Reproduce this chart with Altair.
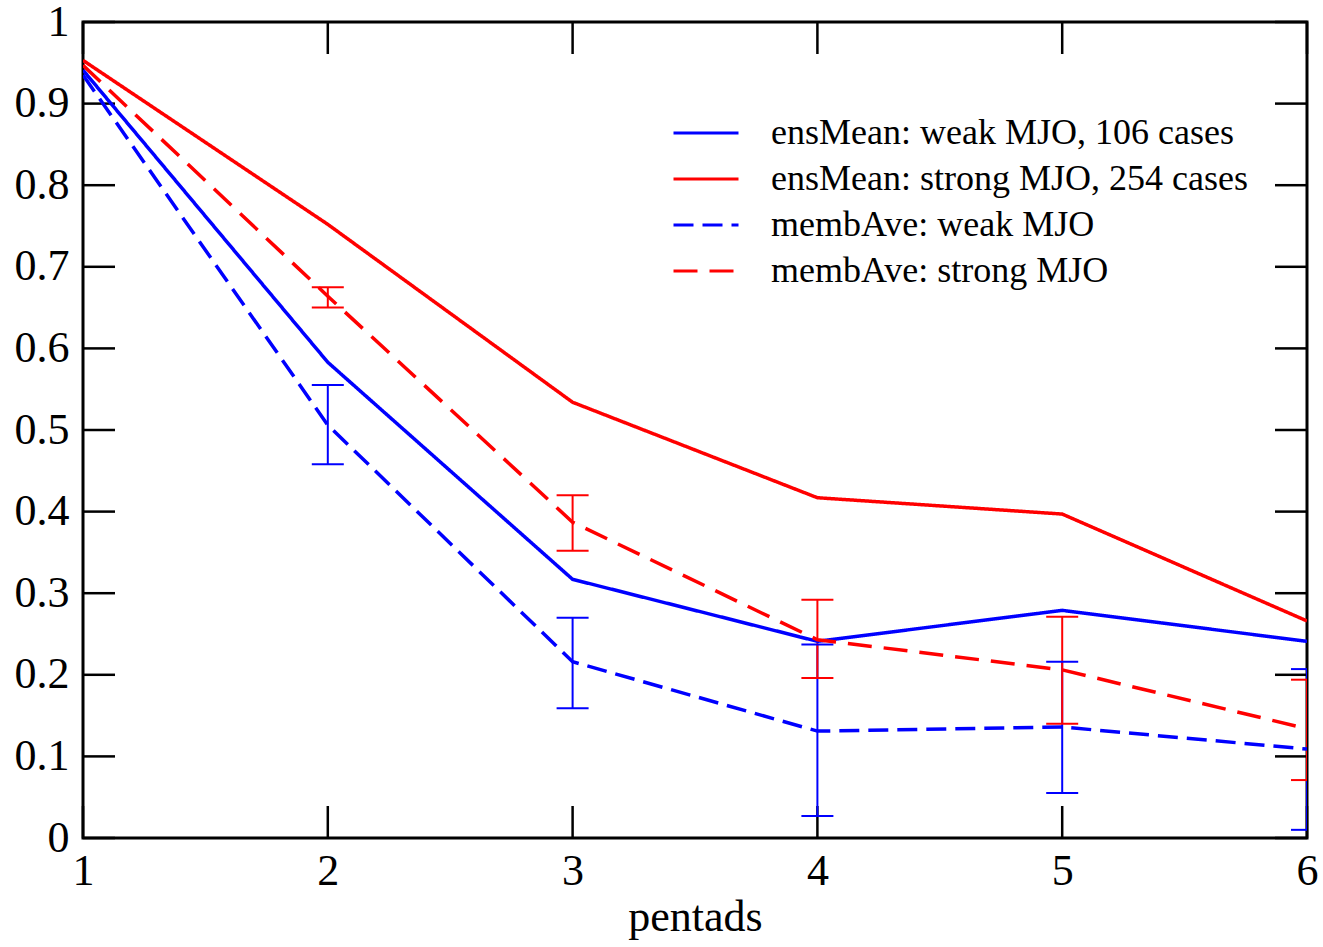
import altair as alt
import pandas as pd

pentads = [1, 2, 3, 4, 5, 6]
ens_weak = [0.941, 0.583, 0.317, 0.241, 0.279, 0.241]
ens_strong = [0.953, 0.752, 0.534, 0.417, 0.397, 0.266]
memb_weak = [0.935, 0.506, 0.216, 0.131, 0.136, 0.109]
memb_strong = [0.947, 0.664, 0.387, 0.243, 0.206, 0.134]

err_x = [2, 3, 4, 5, 6]
weak_lo = [0.458, 0.159, 0.027, 0.055, 0.010]
weak_hi = [0.555, 0.270, 0.237, 0.216, 0.207]
strong_lo = [0.650, 0.352, 0.196, 0.140, 0.071]
strong_hi = [0.675, 0.420, 0.292, 0.271, 0.194]

series_names = [
    "ensMean: weak MJO, 106 cases",
    "ensMean: strong MJO, 254 cases",
    "membAve: weak MJO",
    "membAve: strong MJO",
]
series_colors = ["#0000ff", "#ff0000", "#0000ff", "#ff0000"]
series_dash = [[1, 0], [1, 0], [20, 9], [24, 12]]

x_ticks = [1, 2, 3, 4, 5, 6]
y_ticks = [0, 0.1, 0.2, 0.3, 0.4, 0.5, 0.6, 0.7, 0.8, 0.9, 1.0]

W, H = 1224, 816
TICK = 32
FONT = "Liberation Serif"

rows = []
for name, vals in zip(series_names, [ens_weak, ens_strong, memb_weak, memb_strong]):
    for p, v in zip(pentads, vals):
        rows.append({"pentad": p, "value": v, "series": name})
lines_df = pd.DataFrame(rows)

err_rows = []
for color, lo, hi in [("#0000ff", weak_lo, weak_hi), ("#ff0000", strong_lo, strong_hi)]:
    for p, a, b in zip(err_x, lo, hi):
        err_rows.append({"pentad": p, "lo": a, "hi": b, "c": color})
err_df = pd.DataFrame(err_rows)

xscale = alt.Scale(domain=[1, 6], nice=False, zero=False)
yscale = alt.Scale(domain=[0, 1], nice=False, zero=False)

xaxis = alt.Axis(values=x_ticks, format="d", ticks=False, domain=False, grid=False,
                 labelFont=FONT, labelFontSize=44, labelColor="black", labelPadding=11,
                 labelFlush=False, labelOverlap=False,
                 title="pentads", titleFont=FONT, titleFontSize=44, titleFontWeight="normal",
                 titleColor="black", titlePadding=2)
yaxis = alt.Axis(values=y_ticks, format="~g", ticks=False, domain=False, grid=False,
                 labelFont=FONT, labelFontSize=44, labelColor="black", labelPadding=14,
                 labelFlush=False, labelOverlap=False, title=None)

legend = alt.Legend(title=None, orient="none", legendX=589, legendY=91,
                    symbolType="stroke", symbolSize=4225, symbolStrokeWidth=3,
                    labelFont=FONT, labelFontSize=36, labelColor="black",
                    labelOffset=31, rowPadding=6, clipHeight=40, padding=0, labelLimit=0)

lines = alt.Chart(lines_df).mark_line(strokeWidth=3.5, clip=True).encode(
    x=alt.X("pentad:Q", scale=xscale, axis=xaxis),
    y=alt.Y("value:Q", scale=yscale, axis=yaxis),
    color=alt.Color("series:N", scale=alt.Scale(domain=series_names, range=series_colors), legend=legend),
    strokeDash=alt.StrokeDash("series:N", scale=alt.Scale(domain=series_names, range=series_dash), legend=legend),
    detail="series:N",
)

err_v = alt.Chart(err_df).mark_rule(strokeWidth=2, clip=True).encode(
    x=alt.X("pentad:Q", scale=xscale),
    y=alt.Y("lo:Q", scale=yscale),
    y2="hi:Q",
    stroke=alt.Stroke("c:N", scale=None, legend=None),
)
err_lo = alt.Chart(err_df).mark_rule(strokeWidth=2, clip=True, xOffset=-16, x2Offset=16).encode(
    x=alt.X("pentad:Q", scale=xscale), x2="pentad:Q",
    y=alt.Y("lo:Q", scale=yscale),
    stroke=alt.Stroke("c:N", scale=None, legend=None),
)
err_hi = alt.Chart(err_df).mark_rule(strokeWidth=2, clip=True, xOffset=-16, x2Offset=16).encode(
    x=alt.X("pentad:Q", scale=xscale), x2="pentad:Q",
    y=alt.Y("hi:Q", scale=yscale),
    stroke=alt.Stroke("c:N", scale=None, legend=None),
)

xt_df = pd.DataFrame({"t": x_ticks})
yt_df = pd.DataFrame({"t": y_ticks})
tick_style = dict(strokeWidth=2.5, color="black")
xt_bottom = alt.Chart(xt_df).mark_rule(**tick_style).encode(
    x=alt.X("t:Q", scale=xscale), y=alt.value(H), y2=alt.value(H - TICK))
xt_top = alt.Chart(xt_df).mark_rule(**tick_style).encode(
    x=alt.X("t:Q", scale=xscale), y=alt.value(0), y2=alt.value(TICK))
yt_left = alt.Chart(yt_df).mark_rule(**tick_style).encode(
    y=alt.Y("t:Q", scale=yscale), x=alt.value(0), x2=alt.value(TICK))
yt_right = alt.Chart(yt_df).mark_rule(**tick_style).encode(
    y=alt.Y("t:Q", scale=yscale), x=alt.value(W - TICK), x2=alt.value(W))

chart = alt.layer(
    xt_bottom, xt_top, yt_left, yt_right,
    err_v, err_lo, err_hi, lines,
).properties(
    width=W, height=H,
    autosize=alt.AutoSizeParams(type="none"),
    padding={"left": 83, "top": 22, "right": 16, "bottom": 109},
    background="white",
).configure_view(stroke="black", strokeWidth=3)

chart.save("out.html", embed_options={"renderer": "svg", "actions": False})
